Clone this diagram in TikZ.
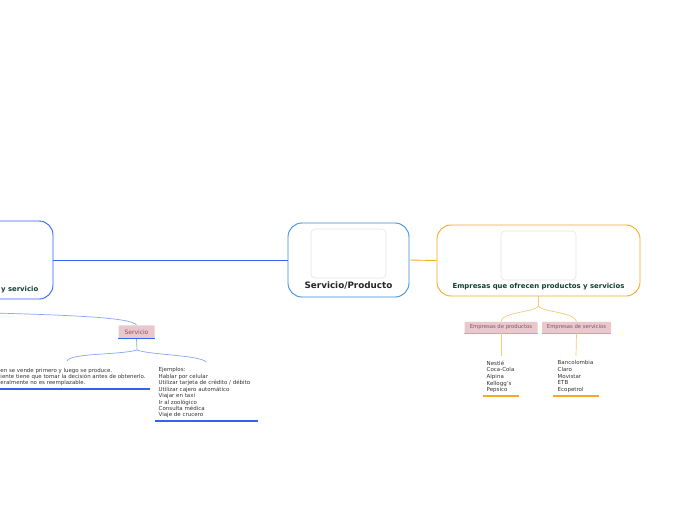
\documentclass[tikz,border=0pt]{standalone}
\usepackage{fontspec}
\setmainfont{DejaVu Sans}
\definecolor{blueA}{HTML}{2F63F0}
\definecolor{blueB}{HTML}{3D8FDB}
\definecolor{blueL}{HTML}{86A8F5}
\definecolor{orng}{HTML}{F6A82A}
\definecolor{orngL}{HTML}{F9C878}
\definecolor{dgreen}{HTML}{12402E}
\definecolor{pinkF}{HTML}{E8C8CD}
\definecolor{pinkT}{HTML}{8E4E5E}
\definecolor{txt}{HTML}{333333}
\definecolor{innerG}{HTML}{E4E4E4}
\tikzset{
  mainbox/.style={draw, line width=0.9pt, rounded corners=14pt, fill=white},
  innerbox/.style={draw=innerG, line width=0.6pt, rounded corners=4pt, fill=white},
  mainlabel/.style={font=\bfseries\fontsize{8.8}{9}\selectfont, text=black!85, inner sep=0pt},
  sublabel/.style={font=\bfseries\fontsize{6.9}{7}\selectfont, text=dgreen, inner sep=0pt},
  tagbox/.style={fill=pinkF, rounded corners=1pt, text=pinkT, inner sep=0pt},
  listtxt/.style={text=txt, inner sep=0pt, align=left, anchor=north west},
  bline/.style={draw=blueL, line width=0.7pt},
  oline/.style={draw=orngL, line width=0.7pt},
}
\begin{document}
\begin{tikzpicture}[x=1pt,y=-1pt]
\useasboundingbox[fill=white] (0,0) rectangle (697,520);
% left (cut) node
\node[mainbox, draw=blueA, minimum width=123pt, minimum height=78pt] (leftn) at (-8.5,260) {};
\node[sublabel, anchor=east] (leftl) at (38.5,290) {y servicio};
% center node
\node[mainbox, draw=blueB, minimum width=121pt, minimum height=74pt] (center) at (348.5,260) {};
\node[innerbox, minimum width=75pt, minimum height=49pt] (centerin) at (348.5,253.5) {};
\node[mainlabel] (centerl) at (348.5,286) {Servicio/Producto};
% right node
\node[mainbox, draw=orng, minimum width=203pt, minimum height=71pt] (right) at (538.5,260.5) {};
\node[innerbox, minimum width=75pt, minimum height=49pt] (rightin) at (538.5,255.5) {};
\node[sublabel] (rightl) at (538.5,286.5) {Empresas que ofrecen productos y servicios};
% main connectors
\draw[draw=blueA, line width=1pt] (leftn.east) -- (center.west);
\draw[draw=orng, line width=0.9pt] (center.east) -- (right.west);
% Servicio branch
\coordinate (inS) at (-5,313);
\node[tagbox, minimum width=36pt, minimum height=13.5pt, font=\fontsize{6}{6}\selectfont] (serv) at (136.5,332) {Servicio};
\draw[draw=blueA, line width=1pt] (serv.south west) -- (serv.south east);
\draw[bline] (inS) .. controls (60,315) and (132,317) .. (serv.north);
\coordinate (sj) at (137,350);
\coordinate (sl) at (67,361);
\coordinate (sr) at (206,362);
\draw[bline] (serv.south) -- (sj);
\draw[bline] (sj) .. controls (120,355) and (70,353) .. (sl);
\draw[bline] (sj) .. controls (150,355) and (200,355) .. (sr);
\node[listtxt, font=\fontsize{5.45}{6}\selectfont] (ltext) at (0.3,368) {en se vende primero y luego se produce.\\iente tiene que tomar la decisión antes de obtenerlo.\\eralmente no es reemplazable.};
\coordinate (lu1) at (0,389);
\coordinate (lu2) at (150,389);
\draw[draw=blueA, line width=1.1pt] (lu1) -- (lu2);
\node[listtxt, font=\fontsize{5.5}{6.43}\selectfont] (rtext) at (158.5,367.5) {Ejemplos:\\Hablar por celular\\Utilizar tarjeta de crédito / débito\\Utilizar cajero automático\\Viajar en taxi\\Ir al zoológico\\Consulta médica\\Viaje de crucero};
\coordinate (ru1) at (155,421);
\coordinate (ru2) at (258,421);
\draw[draw=blueA, line width=1.1pt] (ru1) -- (ru2);
% Empresas branches
\node[tagbox, minimum width=73pt, minimum height=11.5pt, font=\fontsize{5.3}{6}\selectfont] (eprod) at (501,327.5) {Empresas de productos};
\node[tagbox, minimum width=69pt, minimum height=11.5pt, font=\fontsize{5.3}{6}\selectfont] (eserv) at (576.5,327.5) {Empresas de servicios};
\draw[draw=orng, line width=1pt] (eprod.south west) -- (eprod.south east);
\draw[draw=orng, line width=1pt] (eserv.south west) -- (eserv.south east);
\coordinate (oj) at (538.5,306);
\draw[oline] (right.south) -- (oj);
\draw[oline] (oj) .. controls (536,312) and (502,312) .. (eprod.north);
\draw[oline] (oj) .. controls (541,312) and (575,312) .. (eserv.north);
\node[listtxt, font=\fontsize{5.5}{6.7}\selectfont] (ptext) at (486.5,360.5) {Nestlé\\Coca-Cola\\Alpina\\Kellogg's\\Pepsico};
\node[listtxt, font=\fontsize{5.5}{6.7}\selectfont] (stext) at (557.5,360.5) {Bancolombia\\Claro\\Movistar\\ETB\\Ecopetrol};
\coordinate (pl) at (501,356);
\coordinate (sl2) at (576,356);
\draw[oline] (eprod.south) -- (pl);
\draw[oline] (eserv.south) -- (sl2);
\coordinate (pu1) at (483,396);
\coordinate (pu2) at (519,396);
\coordinate (su1) at (553,396);
\coordinate (su2) at (599,396);
\draw[draw=orng, line width=1.1pt] (pu1) -- (pu2);
\draw[draw=orng, line width=1.1pt] (su1) -- (su2);
\end{tikzpicture}
\end{document}
